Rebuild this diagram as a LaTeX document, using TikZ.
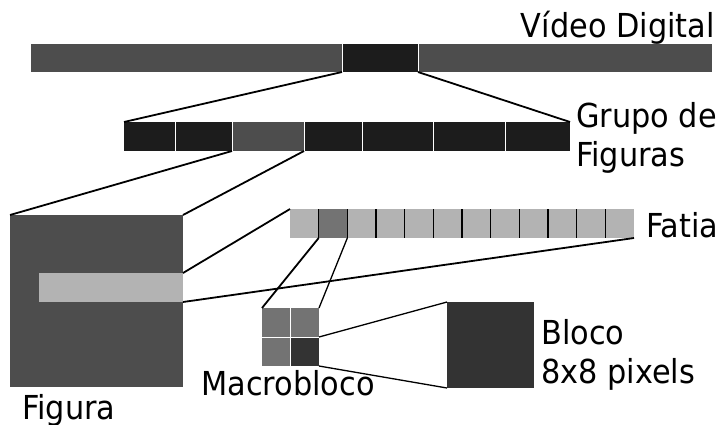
\documentclass[tikz,border=0pt]{standalone}
\usepackage{fontspec}
\setmainfont{DejaVu Sans}[FakeStretch=0.92]

\definecolor{clipgray}{HTML}{4D4D4D}
\definecolor{framedark}{HTML}{1C1C1C}
\definecolor{slicegray}{HTML}{B3B3B3}
\definecolor{mbgray}{HTML}{737373}
\definecolor{blockdark}{HTML}{333333}

\tikzset{
  cell/.style={inner sep=0pt, outer sep=0pt, anchor=north west, draw=none},
  txt/.style={inner sep=0pt, font=\fontsize{33}{39}\selectfont},
  zoomline/.style={line width=1.8pt},
  thinzoom/.style={line width=1.3pt}
}

\begin{document}
\begin{tikzpicture}[x=1pt, y=-1pt]
  \useasboundingbox (0,0) rectangle (727,424);

  % video stream
  \node[cell, fill=clipgray, minimum width=681pt, minimum height=28pt] (video) at (31,44) {};
  \node[cell, fill=framedark, minimum width=76pt, minimum height=28pt] (frame) at (342,44) {};
  \draw[white] (frame.north west) -- (frame.south west)
               (frame.north east) -- (frame.south east);
  \node[txt, anchor=base east] (videolabel) at (715,37) {Vídeo Digital};

  % group of pictures
  \foreach \a/\b/\c [count=\i] in {124/175/framedark, 175/232/framedark, 232/304/clipgray,
      304/362/framedark, 362/433/framedark, 433/505/framedark, 505/570/framedark}
    \node[cell, fill=\c, minimum width={(\b-\a)*1pt}, minimum height=29pt] (gop\i) at (\a,122) {};
  \foreach \i in {1,...,6}
    \draw[white] (gop\i.north east) -- (gop\i.south east);
  \node[txt, anchor=base west, align=left] (goplabel) at (576,166) {Grupo de\\Figuras};

  % picture and its slice
  \node[cell, fill=clipgray, minimum width=173pt, minimum height=172pt] (picture) at (10,215) {};
  \node[cell, fill=slicegray, minimum width=144pt, minimum height=29pt] (slice) at (39,273) {};
  \node[txt, anchor=base west] (picturelabel) at (22,419) {Figura};

  % slice made of macroblocks
  \foreach \i in {1,...,12}
    \node[cell, fill=slicegray, minimum width=28.67pt, minimum height=29pt] (f\i) at ({290+(\i-1)*28.67},209) {};
  \node[cell, fill=mbgray, minimum width=28.67pt, minimum height=29pt] (f2) at (318.67,209) {};
  \foreach \i in {1,...,11}
    \draw[line width=1.2pt] (f\i.north east) -- (f\i.south east);
  \node[txt, anchor=base west] (slicelabel) at (646,237) {Fatia};

  % macroblock: 2x2 blocks
  \node[cell, fill=mbgray, minimum width=28.5pt, minimum height=29pt] (mb1) at (262,308) {};
  \node[cell, fill=mbgray, minimum width=28.5pt, minimum height=29pt] (mb2) at (290.5,308) {};
  \node[cell, fill=mbgray, minimum width=28.5pt, minimum height=29pt] (mb3) at (262,337) {};
  \node[cell, fill=blockdark, minimum width=28.5pt, minimum height=29pt] (mb4) at (290.5,337) {};
  \draw[white] (mb1.north east) -- (mb3.south east)
               (mb1.south west) -- (mb2.south east);
  \node[txt, anchor=base west] (mblabel) at (201,395) {Macrobloco};

  % one block
  \node[cell, fill=blockdark, minimum width=87pt, minimum height=86pt] (block) at (447,302) {};
  \node[txt, anchor=base west, align=left] (blocklabel) at (541,383) {Bloco\\8x8 pixels};

  % zoom lines
  \draw[zoomline] (frame.south west) -- (gop1.north west);
  \draw[zoomline] (frame.south east) -- (gop7.north east);
  \draw[zoomline] (gop3.south west) -- (picture.north west);
  \draw[zoomline] (gop3.south east) -- (picture.north east);
  \draw[zoomline] (slice.north east) -- (f1.north west);
  \draw[zoomline] (slice.south east) -- (f12.south east);
  \draw[zoomline] (f2.south west) -- (mb1.north west);
  \draw[thinzoom] (f2.south east) -- (mb2.north east);
  \draw[thinzoom] (mb4.north east) -- (block.north west);
  \draw[thinzoom] (mb4.south east) -- (block.south west);
\end{tikzpicture}
\end{document}
